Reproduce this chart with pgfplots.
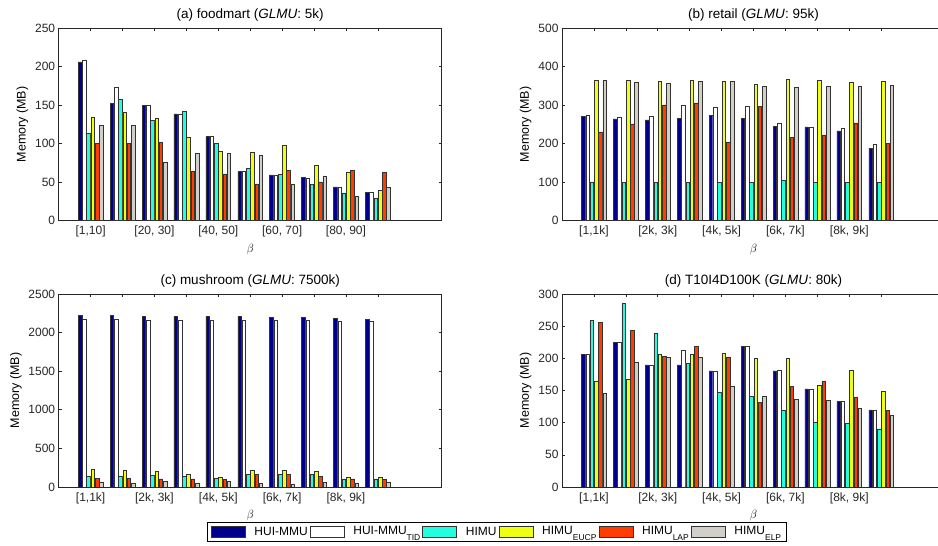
\documentclass[border=0pt]{standalone}
\usepackage{fontspec}
\setmainfont{Liberation Sans}
\usepackage{pgfplots}
\pgfplotsset{compat=1.18}

\definecolor{cnavy}{RGB}{0,0,140}
\definecolor{ccyan}{RGB}{34,255,224}
\definecolor{cyel}{RGB}{238,255,17}
\definecolor{cred}{RGB}{255,61,0}
\definecolor{cgray}{RGB}{210,206,200}

\pgfplotsset{
  memax/.style={
    scale only axis, width=383pt, anchor=south west,
    xmin=0, xmax=12, ymin=0,
    xtick={1,...,10},
    tick align=inside, xtick pos=both, ytick pos=both,
    major tick length=3pt,
    axis line style={black!85, line width=0.8pt},
    every tick/.style={black!85, line width=0.6pt},
    tick label style={font=\fontsize{12}{14}\selectfont, text=black!85},
    xticklabel style={yshift=-2pt},
    /pgf/number format/assume math mode=true,
    /pgf/number format/1000 sep={},
    scaled y ticks=false,
    label style={font=\fontsize{12.5}{14}\selectfont},
    xlabel={$\beta$},
    ylabel={Memory (MB)},
    title style={font=\fontsize{13.5}{16}\selectfont, yshift=-3pt},
  },
  labA/.style={xticklabels={{[1,10]},{},{[20, 30]},{},{[40, 50]},{},{[60, 70]},{},{[80, 90]},{}}},
  labK/.style={xticklabels={{[1,1k]},{},{[2k, 3k]},{},{[4k, 5k]},{},{[6k, 7k]},{},{[8k, 9k]},{}}},
  mybar/.style={ybar, bar width=0.112, draw=black!80, line width=0.45pt},
  s1/.style={mybar, fill=cnavy, bar shift=-0.333},
  s2/.style={mybar, fill=white, bar shift=-0.2},
  s3/.style={mybar, fill=ccyan, bar shift=-0.067},
  s4/.style={mybar, fill=cyel, bar shift=0.067},
  s5/.style={mybar, fill=cred, bar shift=0.2},
  s6/.style={mybar, fill=cgray, bar shift=0.333},
}

\begin{document}
\begin{tikzpicture}
\useasboundingbox (0,0) rectangle (938pt,546pt);
\clip (0,0) rectangle (938pt,546pt);

% (a) foodmart
\begin{axis}[memax, labA, at={(58.7pt,325.3pt)}, height=192.7pt,
  ymax=250, ytick={0,50,...,250},
  title={(a) foodmart (\textit{GLMU}: 5k)}]
\addplot[s1] coordinates {(1,206) (2,152.5) (3,150) (4,138.6) (5,109) (6,63.7) (7,59.4) (8,56) (9,43.8) (10,36.8)};
\addplot[s2] coordinates {(1,208) (2,173) (3,150) (4,138.6) (5,109) (6,63.7) (7,59.4) (8,55) (9,43.8) (10,36.8)};
\addplot[s3] coordinates {(1,113.5) (2,158) (3,130) (4,142) (5,100.5) (6,68) (7,60) (8,46.8) (9,36) (10,29.5)};
\addplot[s4] coordinates {(1,134) (2,141) (3,132.6) (4,108) (5,90) (6,89) (7,97.5) (8,71.5) (9,62.8) (10,39)};
\addplot[s5] coordinates {(1,100.5) (2,100.5) (3,102) (4,64) (5,60.7) (6,47.7) (7,65.4) (8,50.3) (9,65.4) (10,62.8)};
\addplot[s6] coordinates {(1,124) (2,124) (3,76) (4,88) (5,88) (6,85) (7,47.7) (8,58) (9,31.6) (10,43)};
\end{axis}

% (b) retail
\begin{axis}[memax, labK, at={(562pt,325.3pt)}, height=192.7pt,
  ymax=500, ytick={0,100,...,500},
  title={(b) retail (\textit{GLMU}: 95k)}]
\addplot[s1] coordinates {(1,271) (2,264) (3,261.7) (4,266) (5,273) (6,265) (7,244) (8,243.5) (9,233) (10,188)};
\addplot[s2] coordinates {(1,274) (2,268.6) (3,272) (4,300.7) (5,293.8) (6,297) (7,252) (8,243.5) (9,241) (10,199)};
\addplot[s3] coordinates {(1,100.5) (2,100) (3,100) (4,100) (5,100) (6,100) (7,105) (8,100) (9,100) (10,100)};
\addplot[s4] coordinates {(1,364) (2,364) (3,362) (4,364) (5,361) (6,353.6) (7,367) (8,364) (9,360.5) (10,362)};
\addplot[s5] coordinates {(1,230.5) (2,251) (3,300.7) (4,306) (5,204.5) (6,297) (7,216.6) (8,222.7) (9,254) (10,201)};
\addplot[s6] coordinates {(1,364) (2,359.6) (3,357) (4,361) (5,361) (6,349) (7,346.6) (8,350) (9,350) (10,352)};
\end{axis}

% (c) mushroom
\begin{axis}[memax, labK, at={(58.7pt,59pt)}, height=193pt,
  ymax=2500, ytick={0,500,...,2500},
  title={(c) mushroom (\textit{GLMU}: 7500k)},
  legend columns=6,
  legend style={at={(axis description cs:1.1444,-0.233)}, anchor=center,
    draw=black, line width=0.8pt, font=\fontsize{12}{14}\selectfont,
    inner xsep=3pt, inner ysep=2pt,
    /tikz/every odd column/.append style={column sep=7pt}},
  legend image code/.code={\draw[#1, line width=0.6pt] (0pt,-5.5pt) rectangle (34pt,5.5pt);}]
\addplot[s1] coordinates {(1,2224) (2,2224) (3,2215) (4,2215) (5,2215) (6,2215) (7,2202) (8,2194) (9,2185) (10,2176)};
\addplot[s2] coordinates {(1,2176) (2,2176) (3,2163) (4,2163) (5,2159) (6,2159) (7,2159) (8,2159) (9,2150) (10,2150)};
\addplot[s3] coordinates {(1,134) (2,134) (3,155) (4,134) (5,117) (6,168) (7,168) (8,168) (9,104) (10,104)};
\addplot[s4] coordinates {(1,229) (2,220) (3,207) (4,168) (5,130) (6,220) (7,220) (8,199) (9,121) (10,125)};
\addplot[s5] coordinates {(1,108) (2,108) (3,104) (4,104) (5,95) (6,168) (7,168) (8,142) (9,104) (10,95)};
\addplot[s6] coordinates {(1,60) (2,52) (3,69) (4,52) (5,69) (6,43) (7,39) (8,60) (9,52) (10,60)};
\addlegendentry{HUI-MMU}
\addlegendentry{\raisebox{2pt}{HUI-MMU}\raisebox{-4pt}{\fontsize{8.5}{9}\selectfont TID}}
\addlegendentry{HIMU}
\addlegendentry{\raisebox{2pt}{HIMU}\raisebox{-4pt}{\fontsize{8.5}{9}\selectfont EUCP}}
\addlegendentry{\raisebox{2pt}{HIMU}\raisebox{-4pt}{\fontsize{8.5}{9}\selectfont LAP}}
\addlegendentry{\raisebox{2pt}{HIMU}\raisebox{-4pt}{\fontsize{8.5}{9}\selectfont ELP}}
\end{axis}

% (d) T10I4D100K
\begin{axis}[memax, labK, at={(562pt,59pt)}, height=193pt,
  ymax=300, ytick={0,50,...,300},
  title={(d) T10I4D100K (\textit{GLMU}: 80k)}]
\addplot[s1] coordinates {(1,206) (2,224.6) (3,190) (4,190) (5,180.4) (6,219) (7,180.4) (8,152.4) (9,132.6) (10,120)};
\addplot[s2] coordinates {(1,206) (2,224.6) (3,190) (4,212.7) (5,179.4) (6,219) (7,181.5) (8,152.4) (9,132.6) (10,120)};
\addplot[s3] coordinates {(1,258.5) (2,285.5) (3,238.7) (4,192) (5,147.7) (6,141) (7,119) (8,101.4) (9,98.8) (10,90.5)};
\addplot[s4] coordinates {(1,165) (2,167) (3,206.4) (4,206.4) (5,207.5) (6,200.7) (7,200.7) (8,158) (9,182) (10,148.7)};
\addplot[s5] coordinates {(1,256) (2,244) (3,202.8) (4,219) (5,201) (6,131.6) (7,156.5) (8,163.8) (9,138.8) (10,119)};
\addplot[s6] coordinates {(1,145) (2,193.5) (3,201) (4,201) (5,156) (6,141) (7,136.8) (8,135.2) (9,122.7) (10,111.8)};
\end{axis}
\end{tikzpicture}
\end{document}
